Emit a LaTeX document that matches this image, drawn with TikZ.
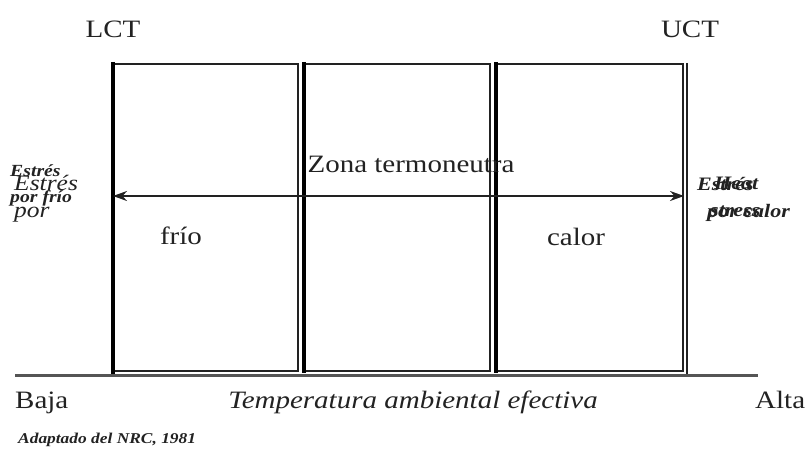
\documentclass[tikz,border=0pt]{standalone}
\usepackage{fontspec}
\setmainfont[FakeStretch=1.16]{Liberation Serif}
\usetikzlibrary{arrows.meta}
\definecolor{ink}{HTML}{222222}
\definecolor{greyline}{HTML}{555555}
\tikzset{
  lbl/.style={inner sep=0pt, font=\fontsize{25}{27}\selectfont, text=ink},
  ilbl/.style={inner sep=0pt, font=\fontsize{25}{27}\selectfont\itshape, text=ink},
  small/.style={inner sep=0pt, align=left, font=\fontsize{19}{27}\selectfont\bfseries\itshape, text=ink, anchor=north west},
  zonebox/.style={draw=ink, line width=1.8pt},
  thickside/.style={draw=black, line width=4pt},
  axis/.style={draw=greyline, line width=3pt},
  arrowline/.style={draw=ink, line width=2pt, {Stealth[length=14pt,width=10pt]}-{Stealth[length=14pt,width=10pt]}}
}
\begin{document}
\begin{tikzpicture}[x=1pt,y=-1pt]
\useasboundingbox (0,0) rectangle (810,465);
% boxes
\coordinate (b1tl) at (112.5,64); \coordinate (b1br) at (298,371);
\coordinate (b2tl) at (304,64);   \coordinate (b2br) at (490,371);
\coordinate (b3tl) at (495.5,64); \coordinate (b3br) at (683,371);
\draw[zonebox] (b1tl) rectangle (b1br);
\draw[zonebox] (b2tl) rectangle (b2br);
\draw[zonebox] (b3tl) rectangle (b3br);
\draw[thickside] (112.5,62) -- (112.5,374);
\draw[thickside] (304,62) -- (304,373);
\draw[thickside] (495.5,62) -- (495.5,373);
\coordinate (uctT) at (687,63); \coordinate (uctB) at (687,375);
\draw[draw=ink, line width=2.5pt] (uctT) -- (uctB);
% baseline
\coordinate (axL) at (15,375.5); \coordinate (axR) at (758,375.5);
\draw[axis] (axL) -- (axR);
% labels
\node[lbl] (lct) at (113,29) {LCT};
\node[lbl] (uct) at (690,29) {UCT};
\node[lbl, anchor=base] (zona) at (411,172) {Zona termoneutra};
\coordinate (arL) at (113,196); \coordinate (arR) at (684,196);
\draw[arrowline] (arL) -- (arR);
\node[lbl] (frio) at (181,236) {frío};
\node[lbl] (calor) at (576,237) {calor};
\node[lbl, anchor=base west] (baja) at (15,408) {Baja};
\node[ilbl, anchor=base] (temp) at (413,408) {Temperatura ambiental efectiva};
\node[lbl, anchor=base west] (alta) at (755,408) {Alta};
\node[small, anchor=base west, font=\fontsize{15}{17}\selectfont\bfseries\itshape] (src) at (18,443) {Adaptado del NRC, 1981};
% overlapping side texts
\node[small, font=\fontsize{17}{26}\selectfont\bfseries\itshape] (le1) at (10,164) {Estrés\\por frío};
\node[small, font=\fontsize{22}{27}\selectfont\itshape] (le2) at (14,175) {Estrés\\por};
\node[small] (re1) at (697,177) {Estrés\\\hspace*{10pt}por calor};
\node[small] (re2) at (714,177) {Heat\\\hspace*{-4pt}stress};
\end{tikzpicture}
\end{document}
